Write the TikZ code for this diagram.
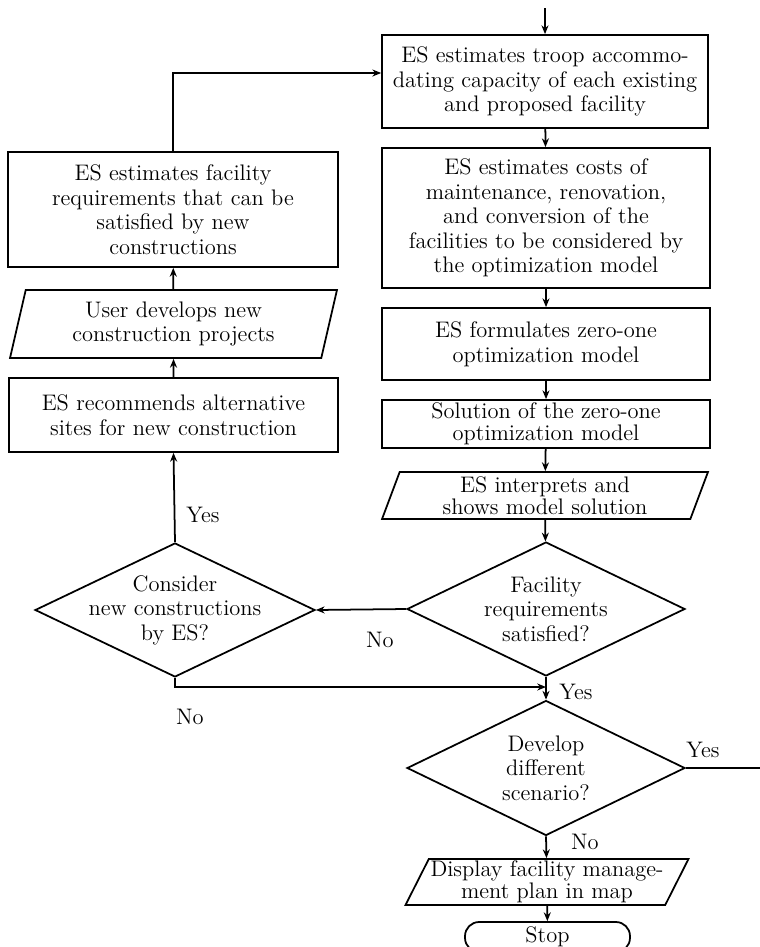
\documentclass[tikz,border=0pt]{standalone}
\usepackage{tikz}
\usetikzlibrary{arrows.meta,positioning,shapes.geometric}

\begin{document}
\begin{tikzpicture}[x=0.02cm,y=-0.02cm,>={Stealth[length=5pt,width=4pt]},line width=1pt,font=\fontsize{12.8}{14}\selectfont]
\tikzstyle{bx}=[draw,rectangle,align=center,inner sep=1pt,minimum width=6.52cm]
\tikzstyle{io}=[draw,trapezium,trapezium stretches body,align=center,inner sep=1pt,minimum width=6.52cm]
\tikzstyle{dec}=[draw,diamond,align=center,inner sep=-18pt,minimum width=5.56cm,minimum height=2.68cm]
\useasboundingbox (0,0) rectangle (760,947);
% main column
\node[bx,minimum height=1.86cm] (b1) at (545,81.5) {ES estimates troop accommo-\\dating capacity of each existing\\and proposed facility};
\node[bx,minimum width=6.56cm,minimum height=2.8cm] (b2) at (546,218) {ES estimates costs of\\maintenance, renovation,\\and conversion of the\\facilities to be considered by\\the optimization model};
\node[bx,minimum width=6.56cm,minimum height=1.44cm] (b3) at (546,344) {ES formulates zero-one\\optimization model};
\node[bx,minimum width=6.56cm,minimum height=0.96cm,font=\fontsize{12.8}{12.5}\selectfont] (b4) at (546,424) {Solution of the zero-one\\optimization model};
\node[io,minimum height=0.94cm,trapezium left angle=67,trapezium right angle=113,font=\fontsize{12.8}{12.5}\selectfont] (io1) at (545,495.5) {ES interprets and\\shows model solution};
\node[dec] (q1) at (546,609) {Facility\\requirements\\satisfied?};
\node[dec,minimum height=2.7cm] (q3) at (546,768) {Develop\\different\\scenario?};
\node[io,minimum width=5.6cm,minimum height=0.92cm,trapezium left angle=63,trapezium right angle=117,font=\fontsize{12.8}{10.5}\selectfont] (io3) at (547,882) {Display facility manage-\\ment plan in map};
\node[draw,rectangle,rounded corners=8pt,minimum width=3.3cm,minimum height=0.6cm,inner sep=1pt] (stop) at (547.5,937) {Stop};
% left column
\node[bx,minimum width=6.6cm,minimum height=2.3cm] (l1) at (173,209.5) {ES estimates facility\\requirements that can be\\satisfied by new\\constructions};
\node[io,minimum width=6.54cm,minimum height=1.36cm,trapezium left angle=72,trapezium right angle=108] (l2) at (173.5,324) {User develops new\\construction projects};
\node[bx,minimum width=6.58cm,minimum height=1.48cm] (l3) at (173.5,415) {ES recommends alternative\\sites for new construction};
\node[dec,minimum width=5.6cm] (q2) at (175,610) {Consider\\new constructions\\by ES?};
% free ends
\coordinate (in) at (545,8);
\coordinate (j) at (546,687);
\coordinate (out) at (762,768);
% connectors
\draw[->] (in) -- (b1.north); \draw[->] (b1) -- (b2); \draw[->] (b2) -- (b3); \draw[->] (b3) -- (b4); \draw[->] (b4) -- (io1); \draw[->] (io1) -- (q1);
\draw[->] (q1.west) -- (q2.east); \draw[->] (q1.south) -- (q3.north); \draw[->] (q2.south) |- (j);
\draw (q3.east) -- (out); \draw[->] (q3.south) -- (io3); \draw[->] (io3) -- (stop);
\draw[->] (q2.north) -- (l3.south); \draw[->] (l3) -- (l2); \draw[->] (l2) -- (l1); \draw[->] (l1.north) |- ([yshift=0.17cm]b1.west);
% labels
\node (y1) at (203,515) {Yes}; \node (n1) at (380,640) {No}; \node (n2) at (190,717) {No};
\node (y2) at (576,692) {Yes}; \node (y3) at (703,750) {Yes}; \node (n3) at (585,842) {No};
\end{tikzpicture}
\end{document}
